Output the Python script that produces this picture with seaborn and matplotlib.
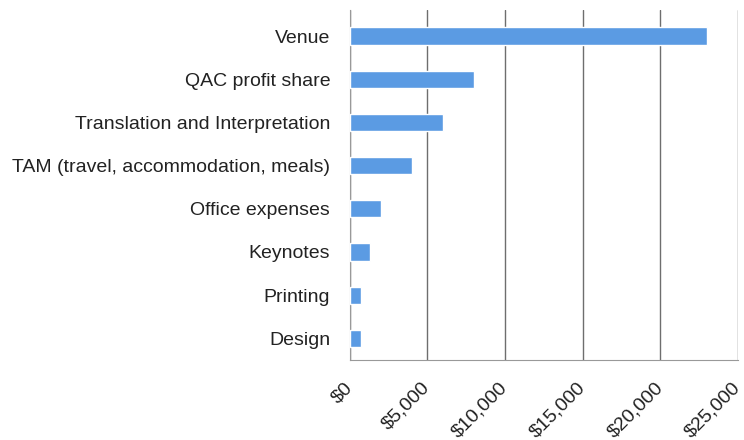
import pandas as pd
import matplotlib
matplotlib.use("Agg")
import matplotlib.pyplot as plt
import seaborn as sns
from matplotlib.ticker import FuncFormatter, FixedLocator

# Budget items and costs (USD), top to bottom as in the chart
items = ['Venue', 'QAC profit share', 'Translation and Interpretation',
         'TAM (travel, accommodation, meals)', 'Office expenses',
         'Keynotes', 'Printing', 'Design']
costs = [23000, 8000, 6000, 4000, 2000, 1300, 750, 750]
x_ticks = [0, 5000, 10000, 15000, 20000, 25000]

df = pd.DataFrame({'item': items, 'cost': costs})

sns.set_style('white')
plt.rcParams['font.family'] = ['Liberation Sans', 'DejaVu Sans']

fig = plt.figure(figsize=(7.44, 4.4), dpi=100)
ax = fig.add_axes([0.47, 0.182, 0.522, 0.795])

sns.barplot(data=df, y='item', x='cost', color='#5b9be3', width=0.4,
            saturation=1, ax=ax, zorder=3)

ax.set_xlim(0, 25000)
ax.set_ylim(len(items) - 0.6, -0.6)
ax.xaxis.set_major_locator(FixedLocator(x_ticks))
ax.xaxis.set_major_formatter(FuncFormatter(lambda v, p: '${:,.0f}'.format(v)))
ax.grid(axis='x', color='#6e6e6e', linewidth=1.0, zorder=0)
ax.set_xlabel('')
ax.set_ylabel('')

for lbl in ax.get_xticklabels():
    lbl.set_rotation(45)
    lbl.set_ha('right')
    lbl.set_va('center')
    lbl.set_rotation_mode('anchor')
    lbl.set_fontsize(14)
    lbl.set_color('#222222')
for lbl in ax.get_yticklabels():
    lbl.set_fontsize(14)
    lbl.set_color('#222222')

ax.tick_params(axis='y', length=0, pad=14)
ax.tick_params(axis='x', length=5, color='#888888', direction='out', pad=13)
# small ticks between categories on the y axis
ax.set_yticks([i + 0.5 for i in range(-1, len(items))], minor=True)
ax.tick_params(axis='y', which='minor', length=4, color='#999999')

for side in ['top', 'right']:
    ax.spines[side].set_visible(False)
for side in ['left', 'bottom']:
    ax.spines[side].set_color('#999999')

plt.savefig('out.png', dpi=100)
